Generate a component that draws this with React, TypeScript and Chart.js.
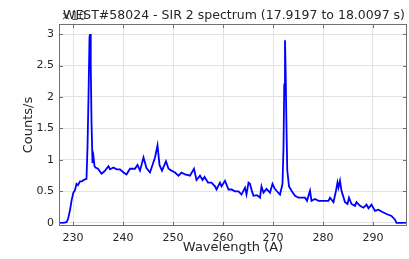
import React, { useEffect, useRef } from "react";
import { Chart, registerables } from "chart.js";

Chart.register(...registerables);

const titleText = "WEST#58024 - SIR 2 spectrum (17.9197 to 18.0097 s)";
const xAxisTitle = "Wavelength (A)";
const yAxisTitle = "Counts/s";
const xTicks = [230, 240, 250, 260, 270, 280, 290];
const yTicks = [0, 0.5, 1, 1.5, 2, 2.5, 3];

const wavelength = [
  227.2, 228.0, 228.7, 229.0, 229.4, 229.7, 230.07, 230.4, 230.7, 231.0, 231.4, 231.8,
  232.1, 232.4, 232.7, 232.9, 233.1, 233.3, 233.4, 233.55, 233.7, 233.9, 234.1, 234.3,
  234.5, 235.0, 235.7, 236.3, 237.1, 237.4, 238.1, 238.7, 239.4, 240.1, 240.7, 241.4,
  242.4, 242.9, 243.4, 244.1, 244.7, 245.4, 246.4, 246.9, 247.3, 247.8, 248.6, 249.1,
  249.7, 250.4, 251.1, 251.7, 252.4, 253.4, 254.2, 254.7, 255.4, 255.9, 256.3, 257.0,
  257.7, 258.4, 258.7, 259.4, 259.7, 260.4, 261.1, 261.7, 262.4, 263.1, 263.7, 264.4,
  264.7, 265.1, 265.4, 265.8, 266.1, 266.8, 267.4, 267.7, 268.1, 268.7, 269.4, 269.9,
  270.3, 270.7, 271.4, 271.9, 272.1, 272.25, 272.4, 272.55, 272.7, 272.85, 273.2, 273.7,
  274.4, 275.1, 275.7, 276.4, 276.8, 277.4, 277.7, 278.4, 279.1, 280.1, 281.1, 281.4,
  282.1, 282.6, 282.9, 283.1, 283.4, 283.7, 284.4, 284.9, 285.2, 285.7, 286.4, 286.7,
  287.4, 288.1, 288.7, 289.1, 289.7, 290.4, 291.1, 291.7, 292.7, 293.7, 294.4, 294.7,
  295.5, 296.8,
];

const counts = [
  0, 0, 0.01, 0.06, 0.2, 0.35, 0.48, 0.52, 0.62, 0.6, 0.66, 0.66,
  0.68, 0.69, 0.7, 1.2, 2.0, 2.95, 3.0, 2.5, 1.6, 0.95, 1.05, 0.9,
  0.88, 0.86, 0.78, 0.82, 0.9, 0.85, 0.88, 0.85, 0.85, 0.8, 0.77, 0.86,
  0.86, 0.92, 0.83, 1.04, 0.87, 0.8, 1.04, 1.23, 0.92, 0.83, 0.98, 0.86,
  0.83, 0.8, 0.75, 0.8, 0.77, 0.75, 0.86, 0.68, 0.75, 0.68, 0.73, 0.64,
  0.64, 0.58, 0.53, 0.64, 0.58, 0.67, 0.53, 0.53, 0.5, 0.5, 0.45, 0.56,
  0.45, 0.64, 0.62, 0.5, 0.43, 0.44, 0.4, 0.58, 0.48, 0.54, 0.48, 0.62,
  0.55, 0.51, 0.45, 0.62, 1.2, 2.2, 2.9, 2.3, 1.5, 0.84, 0.58, 0.51,
  0.43, 0.4, 0.4, 0.4, 0.35, 0.51, 0.35, 0.38, 0.35, 0.35, 0.35, 0.4,
  0.33, 0.51, 0.64, 0.56, 0.67, 0.51, 0.33, 0.3, 0.4, 0.3, 0.27, 0.33,
  0.27, 0.24, 0.29, 0.23, 0.29, 0.19, 0.21, 0.18, 0.14, 0.11, 0.05, 0.0,
  0, 0,
];

const TEXT = "#262626";
const FONT = "'DejaVu Sans', sans-serif";

const framePlugin = {
  id: "frame",
  afterDraw(chart: any) {
    const { ctx, chartArea: a, scales } = chart;
    ctx.save();
    ctx.strokeStyle = "#707070";
    ctx.lineWidth = 1;
    ctx.strokeRect(a.left + 0.5, a.top + 0.5, a.right - a.left - 1, a.bottom - a.top - 1);
    ctx.beginPath();
    xTicks.forEach((t) => {
      const x = Math.round(scales.x.getPixelForValue(t)) + 0.5;
      ctx.moveTo(x, a.bottom);
      ctx.lineTo(x, a.bottom - 4);
      ctx.moveTo(x, a.top);
      ctx.lineTo(x, a.top + 4);
    });
    yTicks.forEach((t) => {
      const y = Math.round(scales.y.getPixelForValue(t)) + 0.5;
      ctx.moveTo(a.left, y);
      ctx.lineTo(a.left + 4, y);
      ctx.moveTo(a.right, y);
      ctx.lineTo(a.right - 4, y);
    });
    ctx.stroke();
    ctx.fillStyle = TEXT;
    ctx.font = `12.5px ${FONT}`;
    ctx.textAlign = "center";
    ctx.textBaseline = "alphabetic";
    ctx.fillText(titleText, (a.left + a.right) / 2 + 1, 19);
    ctx.fillStyle = "rgba(38,38,38,0.8)";
    ctx.textAlign = "left";
    ctx.font = `12px ${FONT}`;
    ctx.fillText("\u00d710", a.left + 2, 20);
    ctx.fillStyle = TEXT;
    ctx.font = `13px ${FONT}`;
    ctx.textAlign = "center";
    ctx.fillText(xAxisTitle, (a.left + a.right) / 2, 251);
    ctx.save();
    ctx.translate(32, (a.top + a.bottom) / 2);
    ctx.rotate(-Math.PI / 2);
    ctx.fillText(yAxisTitle, 0, 0);
    ctx.restore();
    ctx.restore();
  },
};

export default function App() {
  const ref = useRef<HTMLCanvasElement>(null);
  useEffect(() => {
    if (!ref.current) return;
    const data = wavelength.map((w, i) => ({ x: w, y: counts[i] }));
    const chart = new Chart(ref.current, {
      type: "line",
      data: {
        datasets: [
          {
            data,
            borderColor: "#0000ff",
            borderWidth: 1.8,
            pointRadius: 0,
            tension: 0,
            fill: false,
          },
        ],
      },
      options: {
        responsive: false,
        animation: false,
        layout: { padding: { top: 24, right: 2, left: 0, bottom: 0 } },
        plugins: { legend: { display: false }, tooltip: { enabled: false }, title: { display: false } },
        scales: {
          x: {
            type: "linear",
            min: 227.2,
            max: 296.8,
            afterBuildTicks: (s: any) => {
              s.ticks = xTicks.map((v) => ({ value: v }));
            },
            afterFit: (s: any) => {
              s.height = 33;
            },
            grid: { color: "#e3e3e3", drawTicks: false, lineWidth: 1 },
            border: { display: false },
            ticks: {
              color: TEXT,
              font: { size: 11, family: FONT },
              padding: 6,
              maxRotation: 0,
              callback: (v: any) => String(v),
            },
          },
          y: {
            type: "linear",
            min: -0.05,
            max: 3.16,
            afterBuildTicks: (s: any) => {
              s.ticks = yTicks.map((v) => ({ value: v }));
            },
            afterFit: (s: any) => {
              s.width = 59;
            },
            grid: { color: "#e3e3e3", drawTicks: false, lineWidth: 1 },
            border: { display: false },
            ticks: {
              color: TEXT,
              font: { size: 11, family: FONT },
              padding: 5,
              callback: (v: any) => String(v),
            },
          },
        },
      },
      plugins: [framePlugin],
    });
    return () => chart.destroy();
  }, []);
  return (
    <div style={{ position: "absolute", left: 0, top: 0, width: 409, height: 259, background: "#fff" }}>
      <canvas ref={ref} width={409} height={259} style={{ width: 409, height: 259 }} />
    </div>
  );
}
